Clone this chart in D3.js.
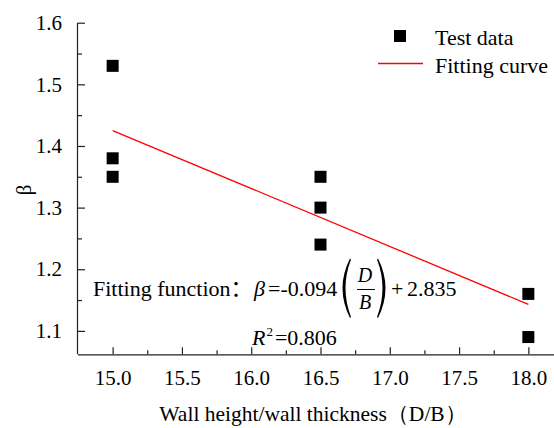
<!DOCTYPE html>
<html>
<head>
<meta charset="utf-8">
<script src="https://cdn.jsdelivr.net/npm/d3@7"></script>
<style>
  html, body { margin: 0; padding: 0; background: #fff; }
  svg { display: block; }
  text { font-family: "Liberation Serif", "Times New Roman", serif; fill: #000; }
  .cjk { font-family: "Noto Sans CJK SC", sans-serif; }
</style>
</head>
<body>
<svg id="chart" width="554" height="428"></svg>
<script>
// Measured ratio D/B and the efficiency factor beta
const ratioDB = [15.0, 15.0, 15.0, 16.5, 16.5, 16.5, 18.0, 18.0];
const betaTest = [1.53, 1.38, 1.35, 1.35, 1.30, 1.24, 1.16, 1.09];

// Linear fit: beta = slope * (D/B) + intercept
const fitSlope = -0.094;
const fitIntercept = 2.835;
const fitRange = [15.0, 18.0];
const rSquared = "0.806";

const xTicks = [15.0, 15.5, 16.0, 16.5, 17.0, 17.5, 18.0];
const yTicks = [1.1, 1.2, 1.3, 1.4, 1.5, 1.6];
const xMinorTicks = [15.25, 15.75, 16.25, 16.75, 17.25, 17.75];
const yMinorTicks = [1.15, 1.25, 1.35, 1.45, 1.55];

const svg = d3.select("#chart");
const plotL = 78, plotR = 563, plotT = 22.7, plotB = 354.3;
const serif = '"Liberation Serif", "Times New Roman", serif';

const x = d3.scaleLinear().domain([14.75, 18.25]).range([plotL, plotR]);
const y = d3.scaleLinear().domain([1.062, 1.6]).range([plotB, plotT]);

// Axes with inward ticks
const xAxis = svg.append("g").attr("transform", `translate(0,${plotB})`)
  .call(d3.axisBottom(x).tickValues(xTicks).tickFormat(d3.format(".1f"))
    .tickSizeInner(-7).tickSizeOuter(0).tickPadding(16));
xAxis.attr("font-family", serif);
xAxis.select(".domain").attr("d", `M${plotL},0.5H554`);
xAxis.selectAll("text").attr("font-size", 21).style("font-family", serif);
svg.append("g").attr("transform", `translate(0,${plotB})`)
  .call(d3.axisBottom(x).tickValues(xMinorTicks).tickFormat("")
    .tickSizeInner(-4).tickSizeOuter(0))
  .select(".domain").remove();

const yAxis = svg.append("g").attr("transform", `translate(${plotL},0)`)
  .call(d3.axisLeft(y).tickValues(yTicks).tickFormat(d3.format(".1f"))
    .tickSizeInner(-7).tickSizeOuter(0).tickPadding(16));
yAxis.attr("font-family", serif);
yAxis.select(".domain").attr("d", `M-0.5,${plotT}V${plotB}`);
yAxis.selectAll("text").attr("font-size", 21).style("font-family", serif);
svg.append("g").attr("transform", `translate(${plotL},0)`)
  .call(d3.axisLeft(y).tickValues(yMinorTicks).tickFormat("")
    .tickSizeInner(-4).tickSizeOuter(0))
  .select(".domain").remove();

svg.selectAll(".domain, .tick line").attr("stroke", "#222").attr("stroke-width", 1.2);

// Axis titles
svg.append("text").attr("x", 313).attr("y", 421).attr("text-anchor", "middle")
  .attr("font-size", 21.5).text("Wall height/wall thickness（D/B）");
svg.append("text").attr("transform", "translate(31,190) rotate(-90)")
  .attr("text-anchor", "middle").attr("font-size", 21).text("β");

// Fitted line
const line = d3.line().x(d => x(d)).y(d => y(fitSlope * d + fitIntercept));
svg.append("path").datum(fitRange).attr("d", line)
  .attr("fill", "none").attr("stroke", "#ff0000").attr("stroke-width", 1.3);

// Test points
const sq = 12;
svg.append("g").selectAll("rect").data(ratioDB).join("rect")
  .attr("x", (d) => x(d) - sq / 2)
  .attr("y", (d, i) => y(betaTest[i]) - sq / 2)
  .attr("width", sq).attr("height", sq).attr("fill", "#000");

// Legend
const lg = svg.append("g");
lg.append("rect").attr("x", 400 - sq / 2).attr("y", 36 - sq / 2).attr("width", sq).attr("height", sq).attr("fill", "#000");
lg.append("text").attr("x", 435).attr("y", 44.5).attr("font-size", 22).text("Test data");
lg.append("line").attr("x1", 378).attr("x2", 423).attr("y1", 63.5).attr("y2", 63.5)
  .attr("stroke", "#ff0000").attr("stroke-width", 1.3);
lg.append("text").attr("x", 435).attr("y", 73).attr("font-size", 22).text("Fitting curve");

// Fitting function annotation
const fz = 22;
const ann = svg.append("g");
const lead = ann.append("text").attr("x", 93).attr("y", 296).attr("font-size", fz);
lead.append("tspan").text("Fitting function");
lead.append("tspan").attr("class", "cjk").text("：");
ann.append("text").attr("x", 254).attr("y", 296).attr("font-size", fz).attr("font-style", "italic").text("β");
ann.append("text").attr("x", 268).attr("y", 296).attr("font-size", fz).text(`=${fitSlope.toFixed(3)}`);
// Tall parentheses around the fraction
ann.append("path").attr("fill", "#000")
  .attr("d", "M350,258.5 Q335,288 350,318 L351,317 Q340,288 351,259.5 Z");
ann.append("path").attr("fill", "#000")
  .attr("d", "M378,258.5 Q393,288 378,318 L377,317 Q388,288 377,259.5 Z");
ann.append("text").attr("x", 365).attr("y", 282).attr("text-anchor", "middle")
  .attr("font-size", 20).attr("font-style", "italic").text("D");
ann.append("line").attr("x1", 357).attr("x2", 375).attr("y1", 289.5).attr("y2", 289.5)
  .attr("stroke", "#000").attr("stroke-width", 1);
ann.append("text").attr("x", 365).attr("y", 309).attr("text-anchor", "middle")
  .attr("font-size", 20).attr("font-style", "italic").text("B");
ann.append("text").attr("x", 391).attr("y", 296).attr("font-size", fz).text("+");
ann.append("text").attr("x", 407).attr("y", 296).attr("font-size", fz).text(fitIntercept.toFixed(3));

const r2 = svg.append("text").attr("x", 252).attr("y", 345).attr("font-size", fz);
r2.append("tspan").attr("font-style", "italic").text("R");
r2.append("tspan").attr("font-size", 13).attr("dx", 1).attr("dy", -9).text("2");
r2.append("tspan").attr("dx", 2).attr("dy", 9).text(`=${rSquared}`);
</script>
</body>
</html>
